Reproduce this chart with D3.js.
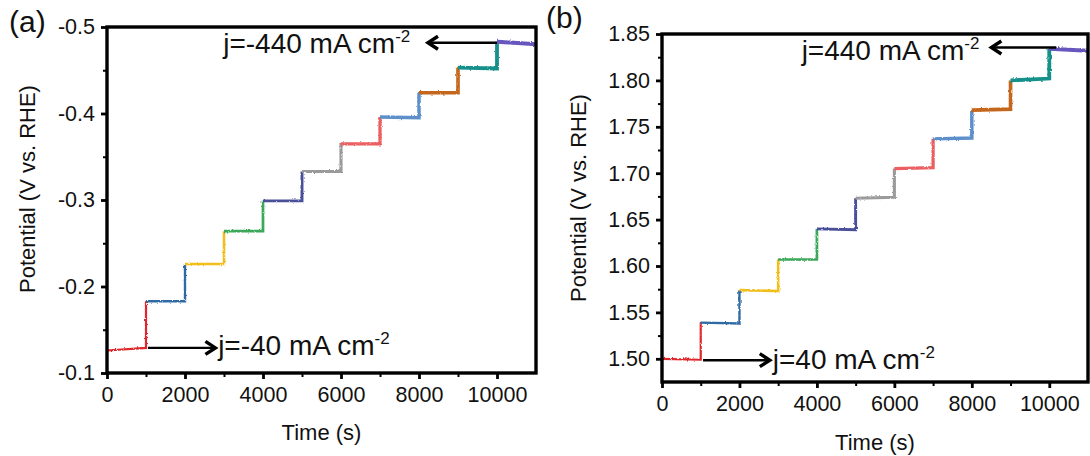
<!DOCTYPE html>
<html>
<head>
<meta charset="utf-8">
<script src="https://cdn.jsdelivr.net/npm/d3@7"></script>
<style>
  html, body { margin: 0; padding: 0; background: #fff; }
  svg { display: block; font-family: "Liberation Sans", Arial, Helvetica, sans-serif; }
</style>
</head>
<body>
<svg id="chart" width="1090" height="456"></svg>
<script>
// Chronopotentiometry staircase: each current step is held for 1000 s
const stepStart = [0, 1000, 2000, 3000, 4000, 5000, 6000, 7000, 8000, 9000, 10000];
const stepEnd   = [1000, 2000, 3000, 4000, 5000, 6000, 7000, 8000, 9000, 10000, 11000];

// HER, j = -40 ... -440 mA cm-2 (V vs. RHE), level at start / end of each step
const herStart = [-0.126, -0.183, -0.226, -0.264, -0.299, -0.333, -0.365, -0.396, -0.424, -0.453, -0.483];
const herEnd   = [-0.129, -0.183, -0.226, -0.264, -0.299, -0.333, -0.365, -0.395, -0.424, -0.452, -0.480];

// OER, j = 40 ... 440 mA cm-2 (V vs. RHE)
const oerStart = [1.500, 1.539, 1.574, 1.607, 1.640, 1.673, 1.705, 1.737, 1.768, 1.800, 1.834];
const oerEnd   = [1.499, 1.538, 1.573, 1.607, 1.639, 1.674, 1.706, 1.738, 1.769, 1.802, 1.832];

const stepColors = ["#e0252a", "#2f6aa3", "#f2be1e", "#3aa85a", "#4a4f98", "#9a9a9a",
                    "#eb5e60", "#5d8fcb", "#c4661c", "#17908b", "#6657bd"];

const timeTicks  = [0, 2000, 4000, 6000, 8000, 10000];
const timeMinor  = [1000, 3000, 5000, 7000, 9000];
const herTicks   = [-0.5, -0.4, -0.3, -0.2, -0.1];
const herMinor   = [-0.45, -0.35, -0.25, -0.15];
const oerTicks   = [1.50, 1.55, 1.60, 1.65, 1.70, 1.75, 1.80, 1.85];
const oerMinor   = [1.525, 1.575, 1.625, 1.675, 1.725, 1.775, 1.825];

const svg = d3.select("#chart");

// slight measurement jitter on the traces
const defs = svg.append("defs");
const flt = defs.append("filter").attr("id", "jitter")
  .attr("filterUnits", "userSpaceOnUse")
  .attr("x", 0).attr("y", 0).attr("width", 1090).attr("height", 456);
flt.append("feTurbulence").attr("type", "fractalNoise")
  .attr("baseFrequency", "0.7 0.35").attr("numOctaves", 2).attr("seed", 3).attr("result", "n");
flt.append("feDisplacementMap").attr("in", "SourceGraphic").attr("in2", "n")
  .attr("scale", 2.6).attr("xChannelSelector", "R").attr("yChannelSelector", "G");

const widthByStep = d3.scaleLinear().domain([0, 10]).range([2.2, 4.0]);

function drawPanel(cfg) {
  const x = d3.scaleLinear().domain([0, 11000]).range([cfg.left, cfg.right]);
  const y = d3.scaleLinear().domain(cfg.yDomain).range([cfg.bottom, cfg.top]);
  const g = svg.append("g");

  // traces
  const line = d3.line().x(d => x(d[0])).y(d => y(d[1]));
  const traces = g.append("g").attr("filter", "url(#jitter)");
  cfg.start.forEach((v0, i) => {
    const pts = [[stepStart[i], v0], [stepEnd[i], cfg.end[i]]];
    if (i < cfg.start.length - 1) pts.push([stepEnd[i], cfg.start[i + 1]]);
    traces.append("path")
      .attr("d", line(pts))
      .attr("fill", "none")
      .attr("stroke", stepColors[i])
      .attr("stroke-width", widthByStep(i))
      .attr("stroke-linejoin", "miter");
  });

  // axes
  const fontSize = 21.5;
  const xAxis = g.append("g").attr("transform", `translate(0,${cfg.bottom})`)
    .call(d3.axisBottom(x).tickValues(timeTicks).tickFormat(d => String(d)).tickSize(6).tickPadding(8));
  const xMinor = g.append("g").attr("transform", `translate(0,${cfg.bottom})`)
    .call(d3.axisBottom(x).tickValues(timeMinor).tickFormat("").tickSize(4));
  const yAxis = g.append("g").attr("transform", `translate(${cfg.left},0)`)
    .call(d3.axisLeft(y).tickValues(cfg.ticks).tickFormat(cfg.fmt).tickSize(6).tickPadding(6));
  const yMinor = g.append("g").attr("transform", `translate(${cfg.left},0)`)
    .call(d3.axisLeft(y).tickValues(cfg.minor).tickFormat("").tickSize(4));
  [xAxis, xMinor, yAxis, yMinor].forEach(a => {
    a.select(".domain").remove();
    a.selectAll("line").attr("stroke", "#000").attr("stroke-width", 2.8);
    a.selectAll("text").attr("fill", "#111").attr("font-size", fontSize)
      .attr("font-family", "Liberation Sans, Arial, sans-serif");
  });
  yMinor.selectAll("line").attr("stroke-width", 2);
  xMinor.selectAll("line").attr("stroke-width", 2);

  // frame
  g.append("rect")
    .attr("x", cfg.left).attr("y", cfg.top)
    .attr("width", cfg.right - cfg.left).attr("height", cfg.bottom - cfg.top)
    .attr("fill", "none").attr("stroke", "#000").attr("stroke-width", 3.4);

  // axis titles
  g.append("text")
    .attr("x", (cfg.left + cfg.right) / 2).attr("y", cfg.xTitleY)
    .attr("text-anchor", "middle").attr("font-size", 22).attr("fill", "#111").text("Time (s)");
  g.append("text")
    .attr("transform", `translate(${cfg.yTitleX},${cfg.yTitleMid}) rotate(-90)`)
    .attr("text-anchor", "middle").attr("font-size", 22).attr("fill", "#111").text("Potential (V vs. RHE)");

  // panel tag
  g.append("text").attr("x", cfg.tagX).attr("y", cfg.tagY)
    .attr("font-size", 30).attr("fill", "#111").text(cfg.tag);

  // current-density annotations with arrows
  cfg.notes.forEach(n => {
    const ay = y(n.arrowV);
    const x0 = x(n.fromT), x1 = x(n.toT);
    const dir = Math.sign(x1 - x0);
    g.append("line").attr("x1", x0).attr("x2", x1 - dir * 1).attr("y1", ay).attr("y2", ay)
      .attr("stroke", "#000").attr("stroke-width", 2.4);
    g.append("path")
      .attr("d", `M${x1 - dir * 10},${ay - 6.5}L${x1},${ay}L${x1 - dir * 10},${ay + 6.5}`)
      .attr("fill", "none").attr("stroke", "#000").attr("stroke-width", 3.4)
      .attr("stroke-linejoin", "miter");
    const t = g.append("text").attr("x", x(n.textT)).attr("y", y(n.textV))
      .attr("font-size", 28).attr("fill", "#111");
    t.append("tspan").text(n.label);
    t.append("tspan").attr("font-size", 17).attr("dy", -11).text("-2");
  });
}

drawPanel({
  tag: "(a)", tagX: 9, tagY: 32,
  left: 107, right: 536, top: 27, bottom: 373,
  yDomain: [-0.1, -0.5],
  ticks: herTicks, minor: herMinor, fmt: d => d.toFixed(1),
  start: herStart, end: herEnd,
  xTitleY: 440, yTitleX: 35, yTitleMid: 189,
  notes: [
    { fromT: 1050, toT: 2780, arrowV: -0.129, textT: 2850, textV: -0.1208, label: "j=-40 mA cm" },
    { fromT: 10000, toT: 8230, arrowV: -0.4818, textT: 2980, textV: -0.4699, label: "j=-440 mA cm" }
  ]
});

drawPanel({
  tag: "(b)", tagX: 546, tagY: 28,
  left: 662, right: 1088, top: 34, bottom: 382,
  yDomain: [1.475, 1.85],
  ticks: oerTicks, minor: oerMinor, fmt: d => d.toFixed(2),
  start: oerStart, end: oerEnd,
  xTitleY: 450, yTitleX: 586, yTitleMid: 198,
  notes: [
    { fromT: 1060, toT: 2784, arrowV: 1.4985, textT: 2860, textV: 1.4895, label: "j=40 mA cm" },
    { fromT: 10180, toT: 8505, arrowV: 1.8355, textT: 3606, textV: 1.8225, label: "j=440 mA cm" }
  ]
});
</script>
</body>
</html>
